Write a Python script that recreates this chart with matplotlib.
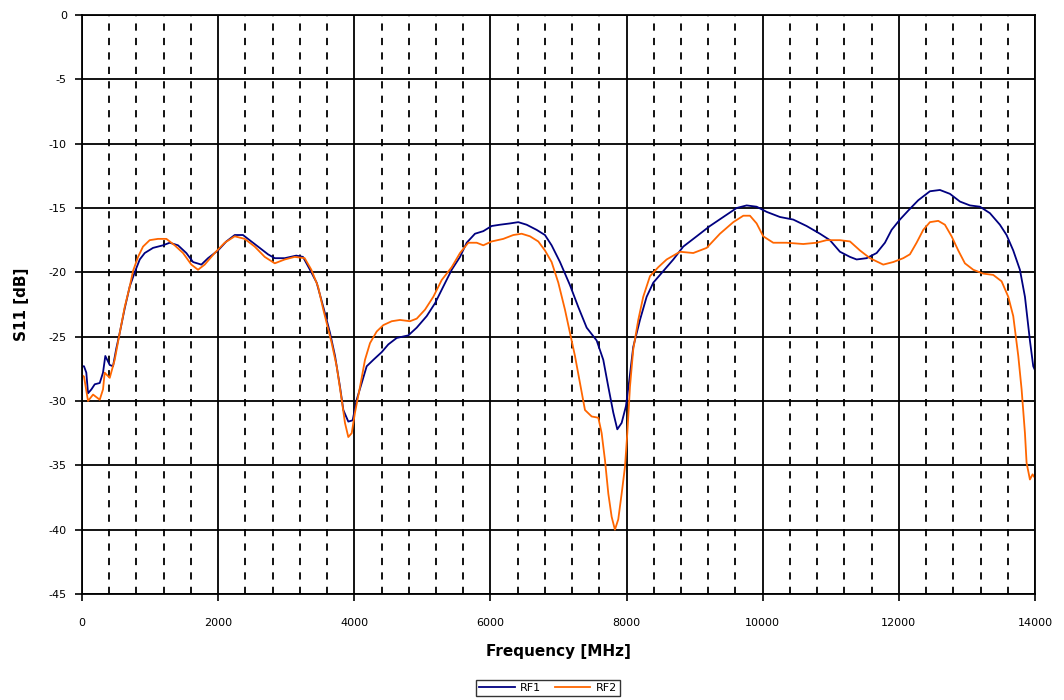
import numpy as np
import matplotlib
matplotlib.use("Agg")
import matplotlib.pyplot as plt
from matplotlib.ticker import MultipleLocator

# ==============================
# DATA
# ==============================
rf1_freq = [0, 29, 63, 88, 137, 187, 260, 308, 342, 407, 455, 504, 554, 627, 701,
            774, 848, 921, 1043, 1190, 1288, 1410, 1532, 1631, 1753, 1851, 1998,
            2120, 2243, 2365, 2487, 2610, 2732, 2831, 2978, 3148, 3246, 3349, 3447,
            3545, 3643, 3717, 3790, 3839, 3912, 3976, 4035, 4109, 4182, 4280, 4403,
            4500, 4623, 4794, 4917, 5064, 5186, 5308, 5431, 5553, 5651, 5773, 5895,
            6018, 6140, 6287, 6409, 6532, 6679, 6801, 6899, 7022, 7169, 7291, 7414,
            7561, 7658, 7732, 7805, 7864, 7928, 7991, 8040, 8098, 8197, 8295, 8393,
            8540, 8687, 8833, 9030, 9225, 9421, 9618, 9764, 9911, 10058, 10254,
            10449, 10645, 10841, 10988, 11135, 11282, 11380, 11527, 11674, 11796,
            11894, 12016, 12139, 12285, 12457, 12604, 12751, 12898, 13045, 13192,
            13338, 13485, 13583, 13681, 13779, 13853, 13926, 13975, 14000]
rf1_s11 = [-27.3, -27.3, -27.8, -29.4, -29.1, -28.7, -28.6, -27.8, -26.5, -27.2,
           -27.3, -25.9, -24.7, -22.8, -21.1, -20.0, -19.0, -18.5, -18.1, -17.9,
           -17.7, -17.9, -18.5, -19.2, -19.4, -18.9, -18.3, -17.6, -17.1, -17.1,
           -17.6, -18.1, -18.6, -18.9, -18.9, -18.7, -18.8, -19.8, -20.8, -22.7,
           -24.7, -26.5, -28.9, -30.7, -31.6, -31.5, -29.9, -28.6, -27.3, -26.8,
           -26.2, -25.6, -25.1, -24.9, -24.3, -23.4, -22.4, -21.1, -19.8, -18.8,
           -17.7, -17.0, -16.8, -16.4, -16.3, -16.2, -16.1, -16.3, -16.7, -17.1,
           -17.9, -19.2, -21.0, -22.7, -24.3, -25.3, -26.8, -28.9, -30.9, -32.2,
           -31.7, -30.4, -28.4, -25.8, -23.7, -21.9, -20.8, -19.9, -19.0, -18.0,
           -17.2, -16.4, -15.7, -15.0, -14.8, -14.9, -15.3, -15.7, -15.9, -16.4,
           -17.0, -17.5, -18.4, -18.8, -19.0, -18.9, -18.5, -17.7, -16.7, -15.9,
           -15.2, -14.4, -13.7, -13.6, -13.9, -14.5, -14.8, -14.9, -15.4, -16.3,
           -17.1, -18.3, -19.8, -21.9, -25.3, -27.3, -27.6]

rf2_freq = [0, 29, 88, 162, 260, 308, 333, 407, 480, 554, 627, 701, 749, 823, 896,
            994, 1116, 1239, 1361, 1484, 1606, 1704, 1802, 1949, 2096, 2243, 2390,
            2537, 2684, 2831, 2978, 3124, 3271, 3369, 3467, 3545, 3668, 3741, 3815,
            3863, 3912, 3962, 4010, 4084, 4157, 4231, 4329, 4427, 4550, 4671, 4818,
            4917, 5039, 5161, 5284, 5431, 5553, 5675, 5798, 5895, 6018, 6189, 6336,
            6459, 6581, 6703, 6801, 6899, 6997, 7095, 7169, 7242, 7316, 7389, 7487,
            7585, 7634, 7683, 7732, 7781, 7829, 7878, 7928, 7977, 8011, 8050, 8098,
            8172, 8245, 8344, 8466, 8589, 8785, 8980, 9177, 9372, 9568, 9715, 9813,
            9911, 10008, 10155, 10351, 10596, 10792, 10939, 11135, 11282, 11429,
            11576, 11771, 11918, 12065, 12163, 12261, 12359, 12457, 12579, 12677,
            12775, 12873, 12971, 13094, 13240, 13387, 13510, 13608, 13681, 13755,
            13804, 13853, 13877, 13926, 13965, 13990]
rf2_s11 = [-28.0, -28.1, -30.0, -29.5, -29.9, -29.1, -27.8, -28.2, -26.8, -24.7,
           -22.7, -21.1, -19.9, -18.8, -18.0, -17.5, -17.4, -17.4, -17.9, -18.5,
           -19.4, -19.8, -19.4, -18.5, -17.7, -17.2, -17.4, -18.0, -18.8, -19.3,
           -19.0, -18.8, -18.9, -19.8, -21.1, -22.9, -25.5, -27.3, -29.9, -31.7,
           -32.8, -32.5, -30.9, -28.9, -26.8, -25.5, -24.6, -24.1, -23.8, -23.7,
           -23.8, -23.6, -22.9, -21.9, -20.6, -19.6, -18.5, -17.7, -17.7, -17.9,
           -17.6, -17.4, -17.1, -17.0, -17.2, -17.6, -18.3, -19.2, -20.8, -22.9,
           -24.7, -26.5, -28.6, -30.7, -31.2, -31.3, -32.5, -34.6, -37.2, -39.0,
           -40.0, -39.2, -37.2, -35.1, -32.5, -28.9, -26.0, -23.7, -21.9, -20.3,
           -19.6, -19.0, -18.4, -18.5, -18.1, -17.0, -16.1, -15.6, -15.6, -16.2,
           -17.2, -17.7, -17.7, -17.8, -17.7, -17.5, -17.5, -17.6, -18.3, -18.9,
           -19.4, -19.2, -18.9, -18.6, -17.7, -16.7, -16.1, -16.0, -16.3, -17.2,
           -18.3, -19.3, -19.8, -20.1, -20.2, -20.7, -21.9, -23.4, -26.5, -29.1,
           -32.5, -34.8, -36.1, -35.7, -35.9]

series_names = ["RF1", "RF2"]
series_colors = ["#000080", "#FF6600"]

# ==============================
# PLOT
# ==============================
plt.rcParams["font.family"] = ["DejaVu Sans"]
plt.rcParams["axes.unicode_minus"] = False

fig = plt.figure(figsize=(10.64, 7.0), dpi=100)
ax = fig.add_axes([0.0771, 0.1514, 0.8956, 0.8272])

ax.set_xlim(0, 14000)
ax.set_ylim(-45, 0)
ax.xaxis.set_major_locator(MultipleLocator(2000))
ax.xaxis.set_minor_locator(MultipleLocator(400))
ax.yaxis.set_major_locator(MultipleLocator(5))

ax.grid(True, which="major", axis="both", color="black", linewidth=1.3, linestyle="-")
ax.grid(True, which="minor", axis="x", color="black", linewidth=1.3, linestyle=(0, (4, 4)))
ax.set_axisbelow(True)

ax.plot(rf1_freq, rf1_s11, color=series_colors[0], linewidth=1.3, label=series_names[0])
ax.plot(rf2_freq, rf2_s11, color=series_colors[1], linewidth=1.3, label=series_names[1])

for s in ax.spines.values():
    s.set_color("black")
    s.set_linewidth(1.3)

ax.tick_params(axis="both", which="major", direction="out", length=5, width=1.2,
               labelsize=8, color="black")
ax.tick_params(axis="x", which="major", pad=12)
ax.tick_params(axis="x", which="minor", length=0)
ax.tick_params(axis="y", which="major", pad=6)

ax.set_xlabel("Frequency [MHz]", fontsize=11, fontweight="bold", labelpad=12)
ax.set_ylabel("S11 [dB]", fontsize=11, fontweight="bold", labelpad=14)

leg = fig.legend(loc="center", bbox_to_anchor=(0.515, 0.017), ncol=2, fontsize=8,
                 frameon=True, fancybox=False, edgecolor="black", handlelength=3.2,
                 columnspacing=1.2, borderpad=0.25, handletextpad=0.5)
leg.get_frame().set_linewidth(1.0)

fig.savefig("out.png", dpi=100, facecolor="white")
